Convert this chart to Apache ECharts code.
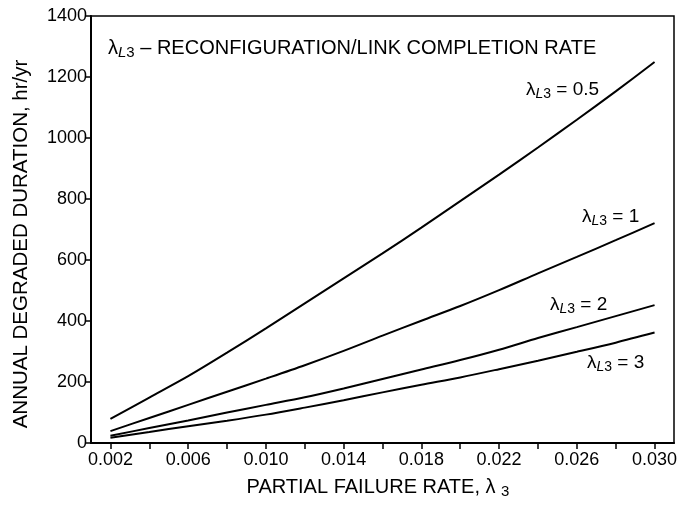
<!DOCTYPE html>
<html><head><meta charset="utf-8">
<script src="https://cdn.jsdelivr.net/npm/echarts@6/dist/echarts.min.js"></script>
<style>html,body{margin:0;padding:0;background:#fff}#c{width:681px;height:514px}</style>
</head><body><div id="c"></div>
<script>
// Partial failure rate (x)
const rate = [0.002,0.004,0.006,0.008,0.010,0.012,0.014,0.016,0.018,0.020,0.022,0.024,0.026,0.028,0.030];
// Annual degraded duration, hr/yr, for each λL3
const dur05 = [79,149,219,296,376,458,540,622,706,793,880,969,1060,1153,1249];
const dur1  = [39,82,125,168,211,255,302,352,401,449,501,556,610,665,721];
const dur2  = [24,49,74,100,125,150,179,210,241,272,306,344,380,416,452];
const dur3  = [17,36,55,73,93,116,140,166,191,215,242,270,299,329,362];
const seriesNames = ['0.5','1','2','3'];
// Axis ticks
const xTickValues = [0.002,0.004,0.006,0.008,0.010,0.012,0.014,0.016,0.018,0.020,0.022,0.024,0.026,0.028,0.030];
const xLabelValues = [0.002,0.006,0.010,0.014,0.018,0.022,0.026,0.030];
const yTicks = [0,200,400,600,800,1000,1200,1400];

const FONT = '"Liberation Sans", Arial, Helvetica, sans-serif';
const chart = echarts.init(document.getElementById('c'));

const richSub = {
  a: {fontSize: 19, fontFamily: FONT, color: '#000', lineHeight: 22},
  si: {fontSize: 14, fontFamily: FONT, fontStyle: 'italic', color: '#000', lineHeight: 12, verticalAlign: 'bottom'},
  s: {fontSize: 14, fontFamily: FONT, color: '#000', lineHeight: 12, verticalAlign: 'bottom'}
};
const richBig = {
  a: {fontSize: 20, fontFamily: FONT, color: '#000', lineHeight: 24},
  si: {fontSize: 15, fontFamily: FONT, fontStyle: 'italic', color: '#000', lineHeight: 13, verticalAlign: 'bottom'},
  s: {fontSize: 15, fontFamily: FONT, color: '#000', lineHeight: 13, verticalAlign: 'bottom'}
};

const allData = [dur05, dur1, dur2, dur3];
const series = allData.map((d, k) => ({
  name: seriesNames[k],
  type: 'line',
  data: rate.map((x, i) => [x, d[i]]),
  showSymbol: false,
  smooth: 0.3,
  lineStyle: {color: '#000', width: 2},
  silent: true
}));

const curveLabelPos = [[526, 79], [582, 206], [550, 294], [587, 352]];
const curveLabels = seriesNames.map((n, k) => ({
  type: 'text', x: curveLabelPos[k][0], y: curveLabelPos[k][1],
  style: {text: '{a|λ}{si|L}{s|3}{a| = ' + n + '}', rich: richSub, fill: '#000'}
}));

chart.setOption({
  animation: false,
  backgroundColor: '#fff',
  grid: {left: 91, right: 7, top: 16, bottom: 71, show: true, borderColor: '#000', borderWidth: 1.5, backgroundColor: 'transparent'},
  xAxis: {
    type: 'value', min: 0.001, max: 0.031,
    axisLine: {show: true, lineStyle: {color: '#000', width: 2}},
    axisTick: {show: true, inside: false, length: 6, customValues: xTickValues, lineStyle: {color: '#000', width: 1.5}},
    axisLabel: {customValues: xLabelValues, formatter: v => v.toFixed(3), color: '#000', fontSize: 18, fontFamily: FONT, margin: 8},
    splitLine: {show: false}
  },
  yAxis: {
    type: 'value', min: 0, max: 1400, interval: 200,
    axisLine: {show: true, lineStyle: {color: '#000', width: 2}},
    axisTick: {show: true, inside: false, length: 6, lineStyle: {color: '#000', width: 1.5}},
    axisLabel: {color: '#000', fontSize: 18, fontFamily: FONT, margin: 4, formatter: v => String(v)},
    splitLine: {show: false}
  },
  series: series,
  graphic: [
    {type: 'text', x: 108, y: 36, style: {text: '{a|λ}{si|L}{s|3}{a| – RECONFIGURATION/LINK COMPLETION RATE}', rich: richBig, fill: '#000'}},
    {type: 'text', x: 378, y: 487, style: {text: '{a|PARTIAL FAILURE RATE, λ }{s|3}', rich: richBig, align: 'center', verticalAlign: 'middle', fill: '#000'}},
    {type: 'text', x: 21, y: 244, rotation: Math.PI / 2, style: {text: 'ANNUAL DEGRADED DURATION, hr/yr', font: '20.5px ' + FONT, align: 'center', verticalAlign: 'middle', fill: '#000'}}
  ].concat(curveLabels)
});
</script></body></html>
